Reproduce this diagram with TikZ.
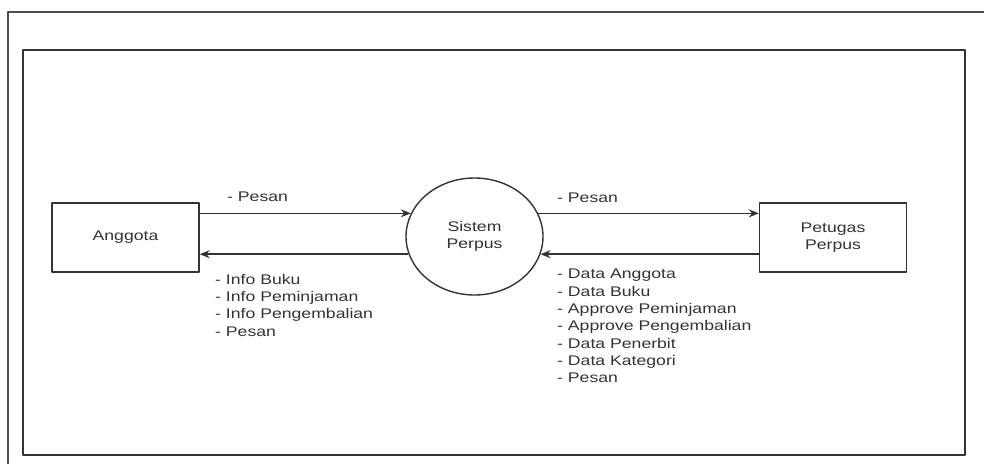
\documentclass[tikz,border=0pt]{standalone}
\usepackage{fontspec}
\setmainfont{Liberation Sans}[FakeStretch=1.26]
\usetikzlibrary{shapes.geometric,arrows.meta}

\begin{document}
\begin{tikzpicture}[x=1pt, y=-1pt, >={Stealth[length=10pt,width=8pt]}, line join=round,
	garis/.style={draw=black!80, line width=1.4pt},
	entitas/.style={garis, rectangle, minimum width=147pt, minimum height=69pt, inner sep=0pt,
		font=\fontsize{14}{17}\selectfont, text=black!80, align=center},
	proses/.style={garis, ellipse, minimum width=137pt, minimum height=117pt, inner sep=0pt,
		font=\fontsize{14}{17}\selectfont, text=black!80, align=center},
	aliran/.style={garis, ->},
	ket/.style={inner sep=0pt, font=\fontsize{14}{17.3}\selectfont, text=black!80, align=left}]
	%% Bingkai
	\useasboundingbox (0,0) rectangle (984,464);
	\draw [black!70, line width=1.5pt] (8,464)--(8,12)--(984,12);
	\draw [garis] (23,50) rectangle (965,455);
	%% Entitas dan proses
	\node [entitas] (anggota) at (125.5,237.5) {Anggota};
	\node [proses] (sistem) at (474.5,236.5) {Sistem\\Perpus};
	\node [entitas] (petugas) at (833,237.5) {Petugas\\Perpus};
	%% Aliran data
	\draw [aliran] (anggota.east |- sistem.160) -- (sistem.160);
	\draw [aliran] (sistem.195) -- (anggota.east |- sistem.195);
	\draw [aliran] (sistem.20) -- (petugas.west |- sistem.20);
	\draw [aliran] (petugas.west |- sistem.-15) -- (sistem.-15);
	%% Keterangan
	\node [ket, anchor=west] (pesanA) at (227,197) {- Pesan};
	\node [ket, anchor=north west] (info) at (215,274) {- Info Buku\\- Info Peminjaman\\- Info Pengembalian\\- Pesan};
	\node [ket, anchor=west] (pesanB) at (557,198) {- Pesan};
	\node [ket, anchor=north west] (data) at (557,269) {- Data Anggota\\- Data Buku\\- Approve Peminjaman\\- Approve Pengembalian\\- Data Penerbit\\- Data Kategori\\- Pesan};
\end{tikzpicture}
\end{document}
